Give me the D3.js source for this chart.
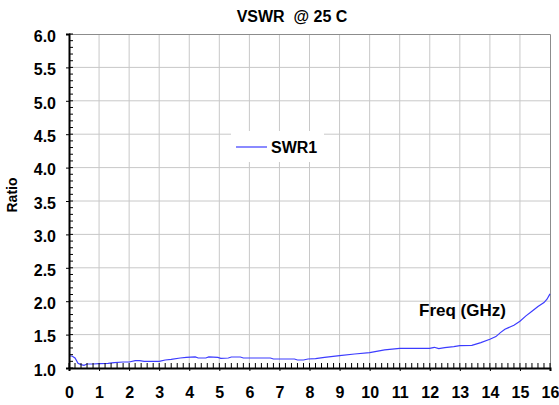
<!DOCTYPE html>
<html>
<head>
<meta charset="utf-8">
<script src="https://cdn.jsdelivr.net/npm/d3@7"></script>
<style>
  body { margin: 0; background: #fff; }
  text { font-family: "Liberation Sans", Arial, sans-serif; font-weight: bold; fill: #000; }
</style>
</head>
<body>
<svg></svg>
<script>
//the dataset
var freq = [0.0, 0.1, 0.2, 0.3, 0.4, 0.5, 0.6, 0.8, 1.0, 1.3, 1.5, 1.8, 2.0, 2.2, 2.35, 2.5,
  3.0, 3.2, 3.4, 3.7, 3.9, 4.2, 4.3, 4.55, 4.65, 4.95, 5.05, 5.3, 5.4, 5.7, 5.8, 6.7, 6.8,
  7.5, 7.6, 7.8, 7.95, 8.2, 8.5, 9.0, 9.5, 10.0, 10.5, 11.0, 11.5, 12.0, 12.15, 12.3, 12.5,
  12.8, 13.0, 13.4, 13.7, 14.0, 14.2, 14.35, 14.5, 14.8, 15.0, 15.2, 15.4, 15.6, 15.8, 15.9, 16.0];
var swr1 = [1.18, 1.18, 1.15, 1.07, 1.05, 1.04, 1.06, 1.06, 1.065, 1.07, 1.08, 1.09, 1.09, 1.11, 1.11, 1.10,
  1.10, 1.12, 1.13, 1.15, 1.16, 1.165, 1.15, 1.15, 1.165, 1.16, 1.145, 1.15, 1.165, 1.165, 1.15, 1.15, 1.135,
  1.135, 1.12, 1.12, 1.135, 1.14, 1.16, 1.185, 1.21, 1.23, 1.27, 1.295, 1.295, 1.295, 1.31, 1.29, 1.305,
  1.32, 1.335, 1.34, 1.38, 1.43, 1.47, 1.53, 1.58, 1.64, 1.70, 1.78, 1.85, 1.92, 1.98, 2.03, 2.11];
var xTicks = [0, 1, 2, 3, 4, 5, 6, 7, 8, 9, 10, 11, 12, 13, 14, 15, 16];
var yTicks = [1.0, 1.5, 2.0, 2.5, 3.0, 3.5, 4.0, 4.5, 5.0, 5.5, 6.0];

//dimensions and margins
var margin = {top: 34, right: 9, bottom: 37, left: 69},
width = 559 - margin.left - margin.right,
height = 405 - margin.top - margin.bottom;

var svg = d3.select('svg')
  .attr("width", 559)
  .attr("height", 405)
  .append("g")
  .attr("transform", "translate(" + margin.left + "," + margin.top + ")");

var x = d3.scaleLinear().domain([0, 16]).range([0, width]);
var y = d3.scaleLinear().domain([1, 6]).range([height, 0]);

//grid lines
svg.append("g")
  .selectAll("line")
  .data(xTicks.slice(1, -1))
  .enter().append("line")
  .attr("x1", function(d) { return x(d); })
  .attr("x2", function(d) { return x(d); })
  .attr("y1", 0)
  .attr("y2", height)
  .style("stroke", "#c8c8c8");

svg.append("g")
  .selectAll("line")
  .data(yTicks.slice(1, -1))
  .enter().append("line")
  .attr("x1", 0)
  .attr("x2", width)
  .attr("y1", function(d) { return y(d); })
  .attr("y2", function(d) { return y(d); })
  .style("stroke", "#c8c8c8");

//top and right border
svg.append("path")
  .attr("d", "M0,0.5H" + (width + 0.5) + "V" + height)
  .style("fill", "none")
  .style("stroke", "#8c8c8c");

//legend box hides the grid
svg.append("rect")
  .attr("x", 162)
  .attr("y", 97)
  .attr("width", 93)
  .attr("height", 31)
  .style("fill", "#fff");

//the curve
var line = d3.line()
  .x(function(d, i) { return x(freq[i]); })
  .y(function(d) { return y(d); });

svg.append("path")
  .datum(swr1)
  .attr("d", line)
  .style("fill", "none")
  .style("stroke", "#3c3cff")
  .style("stroke-width", 1.2);

//minor ticks
svg.append("g")
  .selectAll("line")
  .data(d3.range(0, 16.01, 0.2))
  .enter().append("line")
  .attr("x1", function(d) { return x(d); })
  .attr("x2", function(d) { return x(d); })
  .attr("y1", height - 5)
  .attr("y2", height)
  .style("stroke", "#000");

svg.append("g")
  .selectAll("line")
  .data(d3.range(1, 6.01, 0.1))
  .enter().append("line")
  .attr("x1", 0)
  .attr("x2", 4)
  .attr("y1", function(d) { return y(d); })
  .attr("y2", function(d) { return y(d); })
  .style("stroke", "#000");

// x axis
var xAxis = svg.append("g")
  .attr("transform", "translate(0," + height + ")")
  .call(d3.axisBottom(x).tickValues(xTicks).tickFormat(d3.format("d")).tickSize(3).tickPadding(16));

// y axis
var yAxis = svg.append("g")
  .call(d3.axisLeft(y).tickValues(yTicks).tickFormat(d3.format(".1f")).tickSize(3).tickPadding(10));

[xAxis, yAxis].forEach(function(a) {
  a.select(".domain").style("stroke", "#000").style("stroke-width", 2);
  a.selectAll("text").attr("font-family", null).style("font-size", "16px");
});
yAxis.selectAll("text").attr("dy", "0.45em");

//legend
svg.append("line")
  .attr("x1", 167)
  .attr("x2", 198)
  .attr("y1", 113)
  .attr("y2", 113)
  .style("stroke", "#3c3cff")
  .style("stroke-width", 1.2);

svg.append("text")
  .attr("x", 202)
  .attr("y", 119)
  .style("font-size", "16px")
  .text("SWR1");

// axis titles
svg.append("text")
  .attr("x", 350)
  .attr("y", 282)
  .style("font-size", "17px")
  .text("Freq (GHz)");

svg.append("text")
  .attr("transform", "translate(-52," + 161 + ") rotate(-90)")
  .style("text-anchor", "middle")
  .style("font-size", "14px")
  .text("Ratio");

// title
svg.append("text")
  .attr("x", 223)
  .attr("y", -12)
  .style("text-anchor", "middle")
  .style("font-size", "16px")
  .style("white-space", "pre")
  .text("VSWR  @ 25 C");
</script>
</body>
</html>
